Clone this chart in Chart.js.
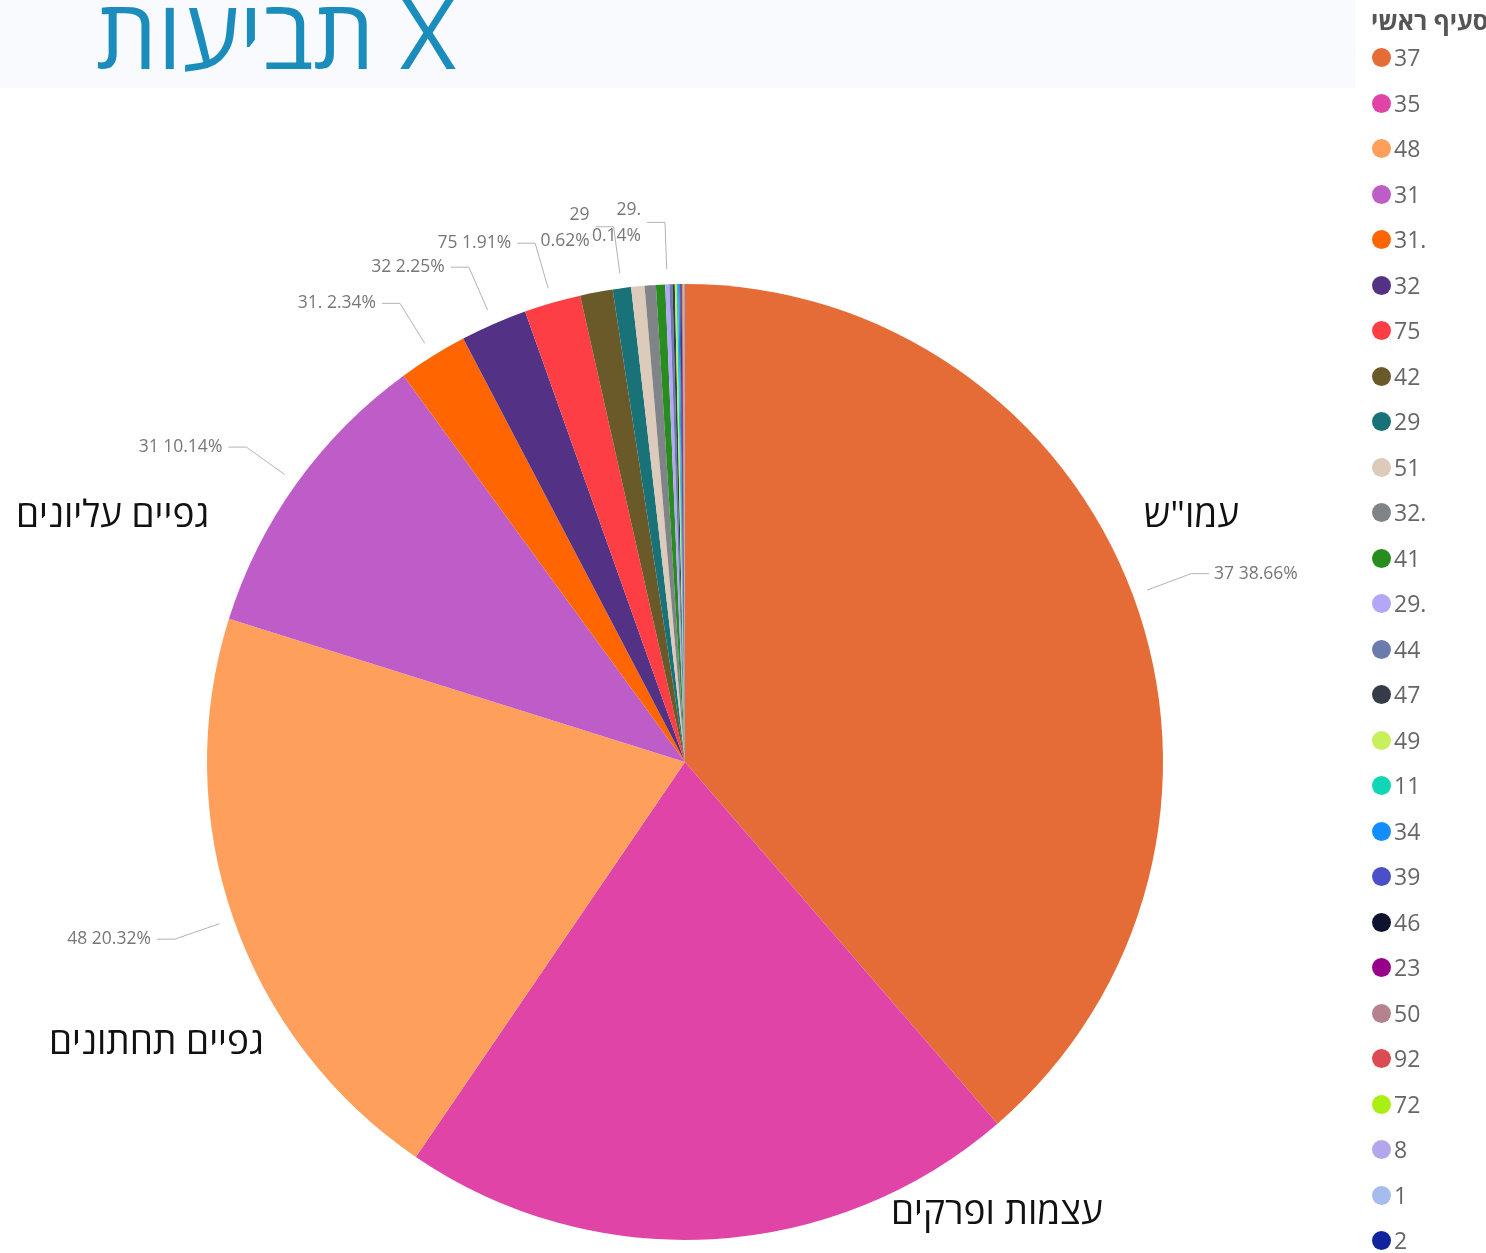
<!DOCTYPE html>
<html>
<head>
<meta charset="utf-8">
<script src="https://cdn.jsdelivr.net/npm/chart.js@4.4.0/dist/chart.umd.min.js"></script>
<style>
  html, body { margin: 0; padding: 0; background: #fff; }
  body { width: 1486px; height: 1253px; position: relative; overflow: hidden; font-family: "Open Sans", "DejaVu Sans", sans-serif; }
  #band { position: absolute; left: 0; top: 0; width: 1355px; height: 88px; background: #f9fafd; }
  #title { position: absolute; left: 96px; top: -27px; font-size: 97px; line-height: 1.2; color: #1a8dbd; font-weight: 400; white-space: nowrap; }
  #chartBox { position: absolute; left: 0; top: 0; width: 1486px; height: 1253px; }
  .note { position: absolute; font-size: 37px; color: #111; white-space: nowrap; direction: rtl; line-height: 1; }
  #legendTitle { position: absolute; left: 1371px; top: 3px; font-size: 25px; font-weight: 700; color: #555; white-space: nowrap; }
  #legend { position: absolute; left: 1372px; top: 35px; }
  .item { height: 45.5px; display: flex; align-items: center; }
  .dot { width: 19px; height: 19px; border-radius: 50%; margin-right: 3px; }
  .lab { font-size: 23px; color: #666; line-height: 1; }
</style>
</head>
<body>
<div id="band"></div>
<div id="title">תביעות X</div>
<div id="chartBox"><canvas id="pieCanvas"></canvas></div>
<div class="note" style="left:1144px; top:494px;">עמו"ש</div>
<div class="note" style="left:16px; top:494px;">גפיים עליונים</div>
<div class="note" style="left:49px; top:1021px;">גפיים תחתונים</div>
<div class="note" style="left:891px; top:1191px;">עצמות ופרקים</div>
<div id="legendTitle">סעיף ראשי</div>
<div id="legend"></div>
<script>
/*
*Chart data
*/
const categories = ['37','35','48','31','31.','32','75','42','29','51','32.','41','29.','44','47','49','11','34','39','46','23','50','92','72','8','1','2'];
const shares = [38.66, 20.86, 20.32, 10.14, 2.34, 2.25, 1.91, 1.1, 0.62, 0.45, 0.38, 0.31, 0.14, 0.1, 0.08, 0.06, 0.05, 0.04, 0.04, 0.03, 0.03, 0.02, 0.02, 0.02, 0.01, 0.01, 0.01];
const showLabel = [true, false, true, true, true, true, true, false, true, false, false, false, true, false, false, false, false, false, false, false, false, false, false, false, false, false, false];
const sliceColors = ['#e66c37','#e044a7','#fe9f5b','#be5dc8','#ff6500','#533285','#fd3e44','#6b5a29','#197278','#dccbbb','#808488','#288c1f','#b4a7fa','#6c7bae','#363b48','#c8f05a','#0fd6b5','#148dff','#4b50c8','#0e1430','#990089','#b5838e','#dc4a54','#aaee14','#b4a6eb','#a6bbee','#12239e'];

/*
*Build the legend on the right
*/
function buildLegend(){
    const legend = document.getElementById('legend');
    for(let i=0;i<categories.length;i++){
        const row = document.createElement('div');
        row.className = 'item';
        const dot = document.createElement('div');
        dot.className = 'dot';
        dot.style.background = sliceColors[i];
        const lab = document.createElement('div');
        lab.className = 'lab';
        lab.textContent = categories[i];
        row.appendChild(dot);
        row.appendChild(lab);
        legend.appendChild(row);
    }
}

/*
*Outside labels with leader lines
*/
const leaderLabels = {
    id: 'leaderLabels',
    afterDatasetsDraw(chart){
        const ctx = chart.ctx;
        const arcs = chart.getDatasetMeta(0).data;
        ctx.save();
        ctx.font = '17.5px "Open Sans", "DejaVu Sans", sans-serif';
        ctx.textBaseline = 'middle';
        for(let i=0;i<arcs.length;i++){
            if(!showLabel[i]) continue;
            const a = arcs[i];
            const mid = (a.startAngle + a.endAngle) / 2;
            const r = a.outerRadius;
            const x0 = a.x + Math.cos(mid)*(r+15), y0 = a.y + Math.sin(mid)*(r+15);
            const x1 = a.x + Math.cos(mid)*(r+62), y1 = a.y + Math.sin(mid)*(r+62);
            const right = x1 > a.x;
            const x2 = right ? x1 + 18 : x1 - 18;
            ctx.strokeStyle = '#b3b3b3';
            ctx.lineWidth = 1;
            ctx.beginPath();
            ctx.moveTo(x0, y0);
            ctx.lineTo(x1, y1);
            ctx.lineTo(x2, y1);
            ctx.stroke();
            ctx.fillStyle = '#777';
            ctx.textAlign = right ? 'left' : 'right';
            const tx = right ? x2 + 5 : x2 - 6;
            const pct = shares[i].toFixed(2) + '%';
            if(shares[i] < 1){
                ctx.fillText(categories[i], tx, y1 - 12);
                ctx.fillText(pct, tx, y1 + 14);
            }else{
                ctx.fillText(categories[i] + ' ' + pct, tx, y1);
            }
        }
        ctx.restore();
    }
};

/*
*Draw the pie
*/
function drawPie(){
    const ctx = document.getElementById('pieCanvas').getContext('2d');
    new Chart(ctx, {
        type: 'pie',
        data: {
            labels: categories,
            datasets: [{
                data: shares,
                backgroundColor: sliceColors,
                borderWidth: 0
            }]
        },
        options: {
            responsive: true,
            maintainAspectRatio: false,
            animation: false,
            layout: { padding: { left: 207, right: 323, top: 284, bottom: 13 } },
            plugins: {
                legend: { display: false },
                tooltip: { enabled: false }
            }
        },
        plugins: [leaderLabels]
    });
}

buildLegend();
drawPie();
</script>
</body>
</html>
